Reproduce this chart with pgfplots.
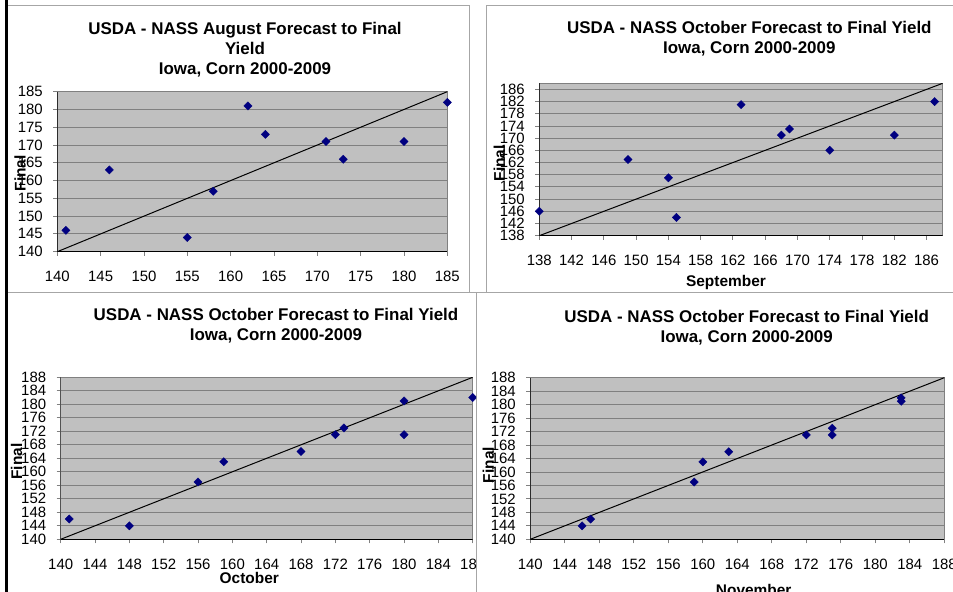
\documentclass[border=0pt]{standalone}
\usepackage{fontspec}
\setmainfont{Liberation Sans}
\usepackage{pgfplots}
\pgfplotsset{compat=1.18}

\definecolor{plotbg}{HTML}{C0C0C0}
\definecolor{gridc}{HTML}{808080}
\definecolor{navy}{HTML}{000080}
\definecolor{framec}{HTML}{A6A6A6}

\pgfplotsset{
  excel/.style={
    scale only axis, anchor=south west,
    axis background/.style={fill=plotbg},
    axis line style={gridc, line width=0.9bp},
    ymajorgrids, grid style={gridc, line width=0.9bp},
    tick align=outside, xtick pos=left, ytick pos=left,
    major tick length=4bp, tick style={gridc, line width=0.9bp},
    tick label style={font=\fontsize{15}{15}\selectfont},
    xticklabel style={yshift=-12bp},
    yticklabel style={xshift=-7bp},
    /pgf/number format/assume math mode=true,
  },
  pts/.style={only marks, color=navy, mark=square*, mark size=2.9bp,
    mark options={rotate=45, fill=navy, draw=navy}},
  ref/.style={black, line width=1bp, no marks},
}
\newcommand{\axlines}{\draw[black, line width=1bp] (rel axis cs:0,1) -- (rel axis cs:0,0) -- (rel axis cs:1,0);}
\newcommand{\ttl}{\fontsize{17}{20}\selectfont\bfseries}
\newcommand{\lbl}{\fontsize{15.5}{16}\selectfont\bfseries}

\begin{document}
\begin{tikzpicture}[x=1bp,y=1bp]
\useasboundingbox (0,0) rectangle (953,592);
\clip (0,0) rectangle (953,592);
\fill[white] (0,0) rectangle (953,592);

% panel frames
\draw[framec, line width=1bp] (8,586) -- (469,586) -- (469,299);
\draw[framec, line width=1bp] (953,586) -- (486,586) -- (486,299) -- (953,299);
\draw[framec, line width=1bp] (8,299) -- (953,299);
\draw[framec, line width=1bp] (476,299) -- (476,0);
\fill[black] (5,0) rectangle (8,592);

% August
\begin{axis}[excel, at={(57.3bp,340.3bp)}, width=390bp, height=160bp,
  xmin=140, xmax=185, ymin=140, ymax=185,
  xtick={140,145,...,185}, ytick={140,145,...,185}]
\addplot[ref] coordinates {(140,140)(185,185)};
\addplot[pts] coordinates {(141,146)(146,163)(155,144)(158,157)(162,181)(164,173)(171,171)(173,166)(180,171)(185,182)};
\axlines
\end{axis}
\node[align=center, font=\ttl] at (245,542.7) {USDA - NASS August Forecast to Final\\Yield\\Iowa, Corn 2000-2009};
\node[rotate=90, font=\lbl] at (20,418.7) {Final};

% September
\begin{axis}[excel, at={(539.3bp,356.3bp)}, width=403.4bp, height=152.4bp,
  xmin=138, xmax=188, ymin=138, ymax=188,
  xtick={138,142,...,186}, ytick={138,142,...,186}]
\addplot[ref] coordinates {(138,138)(188,188)};
\addplot[pts] coordinates {(138,146)(149,163)(154,157)(155,144)(163,181)(168,171)(169,173)(174,166)(182,171)(187,182)};
\axlines
\end{axis}
\node[align=center, font=\ttl] at (749.3,553.7) {USDA - NASS October Forecast to Final Yield\\Iowa, Corn 2000-2009};
\node[rotate=90, font=\lbl] at (499.3,428.7) {Final};
\node[font=\lbl] at (726,309.3) {September};

% October
\begin{scope}
\clip (0,0) rectangle (476,299);
\begin{axis}[excel, at={(60.7bp,52.7bp)}, width=412bp, height=162bp,
  xmin=140, xmax=188, ymin=140, ymax=188,
  xtick={140,144,...,188}, ytick={140,144,...,188}]
\addplot[ref] coordinates {(140,140)(188,188)};
\addplot[pts] coordinates {(141,146)(148,144)(156,157)(159,163)(168,166)(172,171)(173,173)(180,181)(180,171)(188,182)};
\axlines
\end{axis}
\end{scope}
\node[align=center, font=\ttl] at (276,266) {USDA - NASS October Forecast to Final Yield\\Iowa, Corn 2000-2009};
\node[rotate=90, font=\lbl] at (16.7,130.3) {Final};
\node[font=\lbl] at (249.3,13.7) {October};

% November
\begin{axis}[excel, at={(530.3bp,52.7bp)}, width=414bp, height=161.6bp,
  xmin=140, xmax=188, ymin=140, ymax=188,
  xtick={140,144,...,188}, ytick={140,144,...,188}]
\addplot[ref] coordinates {(140,140)(188,188)};
\addplot[pts] coordinates {(146,144)(147,146)(159,157)(160,163)(163,166)(172,171)(175,173)(175,171)(183,182)(183,181)};
\axlines
\end{axis}
\node[align=center, font=\ttl] at (746.7,264.7) {USDA - NASS October Forecast to Final Yield\\Iowa, Corn 2000-2009};
\node[rotate=90, font=\lbl] at (488.3,127) {Final};
\node[font=\lbl] at (753.7,2) {November};
\end{tikzpicture}
\end{document}
